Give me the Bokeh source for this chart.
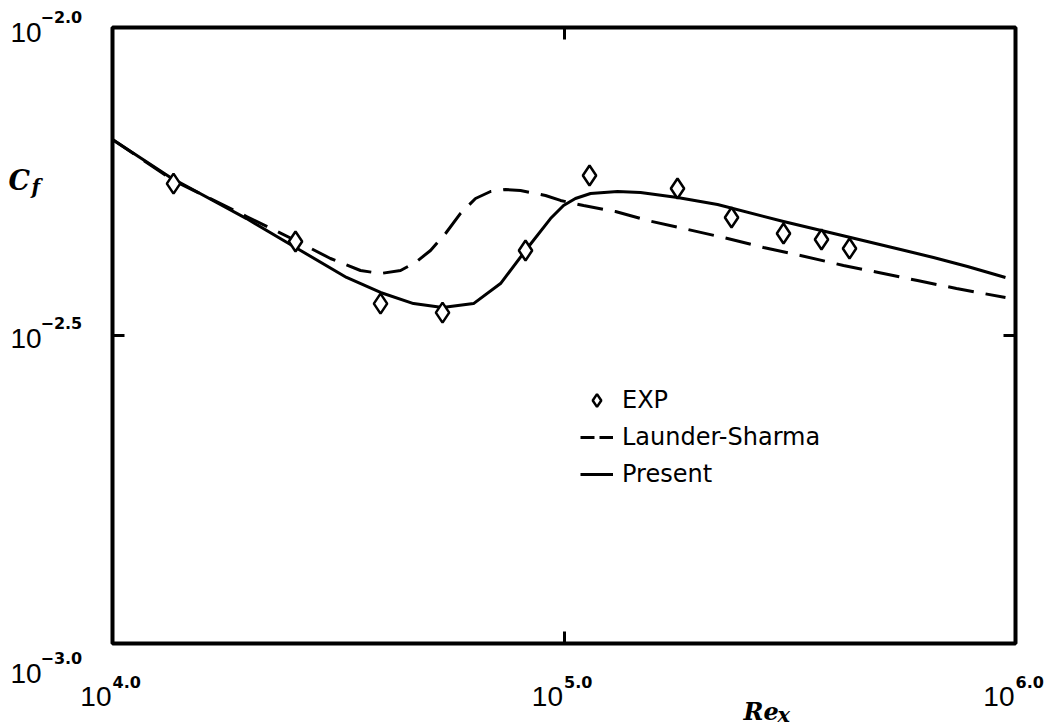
from bokeh.plotting import figure
from bokeh.models import (Range1d, FixedTicker, Legend, LegendItem,
                          CustomJSTickFormatter, LogAxis)
from bokeh.core.properties import value
from bokeh.embed import file_html
from bokeh.resources import INLINE

# ---------------- data ----------------
exp_re = [1.365e4, 2.543e4, 3.923e4, 5.382e4, 8.218e4, 1.139e5,
          1.784e5, 2.350e5, 3.063e5, 3.718e5, 4.289e5]
exp_cf = [5.58e-3, 4.494e-3, 3.563e-3, 3.445e-3, 4.345e-3, 5.751e-3,
          5.478e-3, 4.915e-3, 4.630e-3, 4.527e-3, 4.377e-3]

present_re = [1.0e4, 1.344e4, 1.981e4, 2.543e4, 3.299e4, 3.923e4, 4.642e4,
              5.382e4, 6.304e4, 7.235e4, 8.218e4, 9.335e4, 9.975e4, 1.060e5,
              1.145e5, 1.314e5, 1.477e5, 1.784e5, 2.188e5, 3.063e5, 4.312e5,
              5.564e5, 6.582e5, 7.829e5, 9.502e5]
present_cf = [6.579e-3, 5.707e-3, 4.896e-3, 4.394e-3, 3.928e-3, 3.714e-3,
              3.563e-3, 3.512e-3, 3.563e-3, 3.840e-3, 4.345e-3, 4.896e-3,
              5.140e-3, 5.277e-3, 5.376e-3, 5.417e-3, 5.396e-3, 5.297e-3,
              5.160e-3, 4.842e-3, 4.561e-3, 4.361e-3, 4.233e-3, 4.093e-3,
              3.928e-3]

ls_re = [1.0e4, 1.365e4, 1.981e4, 2.543e4, 3.039e4, 3.542e4, 3.923e4,
         4.345e4, 4.689e4, 5.062e4, 5.465e4, 5.899e4, 6.368e4, 6.875e4,
         7.420e4, 8.010e4, 9.100e4, 9.822e4, 1.105e5, 1.300e5, 1.531e5,
         2.256e5, 2.766e5, 3.340e5, 4.159e5, 4.973e5, 6.066e5, 7.401e5,
         9.502e5]
ls_cf = [6.579e-3, 5.644e-3, 4.934e-3, 4.510e-3, 4.217e-3, 4.032e-3,
         3.987e-3, 4.032e-3, 4.155e-3, 4.345e-3, 4.630e-3, 4.990e-3,
         5.277e-3, 5.417e-3, 5.458e-3, 5.437e-3, 5.337e-3, 5.239e-3,
         5.140e-3, 5.027e-3, 4.861e-3, 4.561e-3, 4.394e-3, 4.265e-3,
         4.108e-3, 4.003e-3, 3.884e-3, 3.769e-3, 3.645e-3]

x_ticks = [1e4, 1e5, 1e6]
x_tick_exps = ["4.0", "5.0", "6.0"]
y_ticks = [1e-3, 10 ** -2.5, 1e-2]
y_tick_exps = ["\u22123.0", "\u22122.5", "\u22122.0"]

legend_labels = ["EXP", "Launder-Sharma", "Present"]

# ---------------- figure ----------------
p = figure(width=1055, height=727, x_axis_type="log", y_axis_type="log",
           x_range=Range1d(x_ticks[0], x_ticks[-1]),
           y_range=Range1d(y_ticks[0], y_ticks[-1]),
           output_backend="svg", toolbar_location=None,
           min_border_left=112, min_border_right=40,
           min_border_top=27, min_border_bottom=84)
p.xgrid.visible = False
p.ygrid.visible = False
p.outline_line_width = 4
p.outline_line_color = "black"
p.outline_line_alpha = 1.0
p.background_fill_color = "white"
p.border_fill_color = "white"

p.add_layout(LogAxis(), "above")
p.add_layout(LogAxis(), "right")


def style_axis(ax, ticks):
    ax.ticker = FixedTicker(ticks=ticks, minor_ticks=[])
    ax.formatter = CustomJSTickFormatter(code="return ''")
    ax.major_tick_in = 12
    ax.major_tick_out = 0
    ax.major_tick_line_width = 3
    ax.major_tick_line_color = "black"
    ax.minor_tick_line_color = None
    ax.axis_line_color = None
    ax.major_label_standoff = 0
    ax.major_label_text_font_size = "1px"


for ax in p.below + p.above:
    style_axis(ax, x_ticks)
for ax in p.left + p.right:
    style_axis(ax, y_ticks)

# ---------------- glyphs ----------------
r_ls = p.line(ls_re, ls_cf, line_width=3, line_color="black",
              line_dash="26 12", line_join="round")
r_pr = p.line(present_re, present_cf, line_width=3, line_color="black",
              line_join="round")
r_exp = p.scatter(exp_re, exp_cf, marker="diamond", size=20,
                  fill_color="white", line_color="black", line_width=2.5)
# legend key for the dashed series (a single point: draws nothing in the plot)
r_ls_key = p.line(ls_re[:1], ls_cf[:1], line_width=3, line_color="black",
                  line_dash="14 5")

legend = Legend(items=[LegendItem(label=legend_labels[0], renderers=[r_exp]),
                       LegendItem(label=legend_labels[1], renderers=[r_ls_key]),
                       LegendItem(label=legend_labels[2], renderers=[r_pr])],
                location=(468, 153))
legend.glyph_width = 33
legend.glyph_height = 32
legend.label_height = 32
legend.spacing = 5
legend.padding = 0
legend.margin = 0
legend.label_standoff = 9
legend.border_line_color = None
legend.background_fill_alpha = 0
legend.label_text_font = "DejaVu Sans"
legend.label_text_font_size = "24px"
legend.label_text_color = "black"
p.add_layout(legend, "center")

# ---------------- tick labels (text glyphs drawn above the frame) ----------------
BASE_FONT = "Liberation Sans"
EXP_FONT = "DejaVu Sans"
SERIF = "DejaVu Serif"
LIFT = 7

nx = len(x_ticks)
p.text(x=x_ticks, y=[y_ticks[0]] * nx, text=["10"] * nx,
       text_align="right", text_baseline="alphabetic",
       x_offset=-1, y_offset=60 - LIFT, text_font=value(BASE_FONT),
       text_font_size="28px", text_color="black", level="overlay")
p.text(x=x_ticks, y=[y_ticks[0]] * nx, text=x_tick_exps,
       text_align="left", text_baseline="alphabetic",
       x_offset=0, y_offset=45 - LIFT, text_font=value(EXP_FONT),
       text_font_style="bold", text_font_size="16px", text_color="black",
       level="overlay")

ny = len(y_ticks)
y_base_drop = [37, 10, 12]
p.text(x=[x_ticks[0]] * ny, y=y_ticks, text=["10"] * ny,
       text_align="left", text_baseline="alphabetic",
       x_offset=-102, y_offset=[d - LIFT for d in y_base_drop],
       text_font=value(BASE_FONT),
       text_font_size="28px", text_color="black", level="overlay")
p.text(x=[x_ticks[0]] * ny, y=y_ticks, text=y_tick_exps,
       text_align="left", text_baseline="alphabetic",
       x_offset=-72, y_offset=[d - 16 - LIFT for d in y_base_drop],
       text_font=value(EXP_FONT), text_font_style="bold",
       text_font_size="16px", text_color="black", level="overlay")

# ---------------- axis titles ----------------
p.text(x=[x_ticks[0]], y=[y_ticks[-1]], text=["C"], text_align="left",
       text_baseline="alphabetic", x_offset=-104, y_offset=160 - LIFT,
       text_font=value(SERIF), text_font_style="bold italic",
       text_font_size="27px", text_color="black", level="overlay")
p.text(x=[x_ticks[0]], y=[y_ticks[-1]], text=["f"], text_align="left",
       text_baseline="alphabetic", x_offset=-81, y_offset=166 - LIFT,
       text_font=value(SERIF), text_font_style="bold italic",
       text_font_size="20px", text_color="black", level="overlay")
p.text(x=[x_ticks[-1]], y=[y_ticks[0]], text=["Re"], text_align="left",
       text_baseline="alphabetic", x_offset=-272, y_offset=75 - LIFT,
       text_font=value(SERIF), text_font_style="bold italic",
       text_font_size="24px", text_color="black", level="overlay")
p.text(x=[x_ticks[-1]], y=[y_ticks[0]], text=["x"], text_align="left",
       text_baseline="alphabetic", x_offset=-238, y_offset=78 - LIFT,
       text_font=value(SERIF), text_font_style="bold italic",
       text_font_size="21px", text_color="black", level="overlay")

open("out.html", "w", encoding="utf-8").write(file_html(p, INLINE))
